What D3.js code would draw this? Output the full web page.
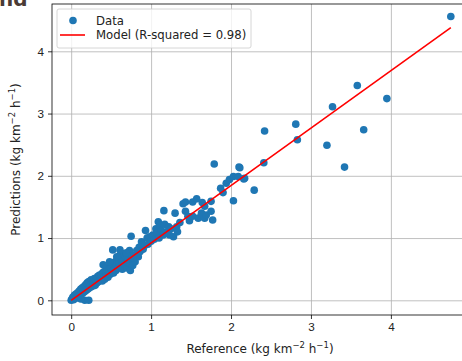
<!DOCTYPE html>
<html>
<head>
<meta charset="utf-8">
<script src="https://cdn.jsdelivr.net/npm/d3@7"></script>
<style>
  body { margin: 0; background: #fff; }
  svg { display: block; font-family: "DejaVu Sans", sans-serif; }
  .grid line { stroke: #b0b0b0; stroke-width: 0.8; }
  .grid path { display: none; }
  .axis path, .axis line { stroke: #000; stroke-width: 0.8; }
  .axis text { font-size: 11.7px; fill: #222; }
</style>
</head>
<body>
<svg id="chart" width="462" height="361"></svg>
<script>
// reference vs predicted values (kg km-2 h-1)
const reference = [
  0.00, 0.01, 0.02, 0.03, 0.04, 0.05, 0.06, 0.07, 0.08, 0.09, 0.10, 0.11, 0.12, 0.13, 0.14, 0.15,
  0.16, 0.17, 0.18, 0.19, 0.20, 0.21, 0.22, 0.23, 0.24, 0.25, 0.26, 0.27, 0.28, 0.29, 0.30, 0.31,
  0.32, 0.33, 0.34, 0.35, 0.36, 0.37, 0.38, 0.39, 0.40, 0.41, 0.42, 0.43, 0.44, 0.45, 0.46, 0.47,
  0.48, 0.49, 0.50, 0.51, 0.52, 0.53, 0.54, 0.55, 0.56, 0.57, 0.58, 0.59, 0.60, 0.61, 0.62, 0.63,
  0.64, 0.65, 0.66, 0.67, 0.68, 0.69, 0.70, 0.71, 0.72, 0.73, 0.74, 0.75, 0.76, 0.77, 0.78, 0.80,
  0.82, 0.84, 0.85, 0.86, 0.88, 0.90, 0.92, 0.93, 0.95, 0.96, 0.98, 1.00, 1.02, 1.04, 1.06, 1.07,
  1.09, 1.10, 1.11, 1.13, 1.15, 1.16, 1.17, 1.20, 1.22, 1.23, 1.25, 1.28, 1.30, 1.32, 1.33, 1.36,
  0.17, 0.22, 0.12, 0.52, 0.57, 0.61, 0.48, 0.40, 0.77, 0.69,
  1.40, 1.43, 1.43, 1.46, 1.48, 1.52, 1.52, 1.57, 1.59, 1.63, 1.64, 1.67, 1.67, 1.69, 1.75, 1.75,
  1.77, 1.79, 1.87, 1.90, 1.94, 1.98, 2.03, 2.03, 2.09, 2.10, 2.11, 2.16, 2.17, 2.29,
  2.41, 2.42, 2.81, 2.83, 3.20, 3.27, 3.42, 3.58, 3.66, 3.95, 4.75
];
const predicted = [
  0.00, 0.02, 0.05, 0.01, 0.08, 0.03, 0.10, 0.04, 0.12, 0.06, 0.15, 0.08, 0.18, 0.10, 0.20, 0.12,
  0.22, 0.14, 0.25, 0.16, 0.28, 0.18, 0.30, 0.20, 0.24, 0.33, 0.22, 0.30, 0.26, 0.35, 0.24, 0.32,
  0.28, 0.38, 0.30, 0.40, 0.33, 0.36, 0.42, 0.31, 0.45, 0.38, 0.34, 0.48, 0.40, 0.50, 0.37, 0.44,
  0.55, 0.42, 0.52, 0.46, 0.60, 0.44, 0.50, 0.62, 0.48, 0.56, 0.68, 0.52, 0.60, 0.72, 0.55, 0.66,
  0.50, 0.75, 0.62, 0.58, 0.70, 0.76, 0.52, 0.65, 0.60, 0.80, 0.48, 1.03, 0.68, 0.56, 0.72, 0.62,
  0.80, 0.70, 0.85, 0.78, 0.94, 0.82, 0.88, 1.12, 1.00, 0.90, 1.02, 0.95, 1.05, 0.98, 1.15, 1.08,
  1.26, 1.00, 1.20, 1.12, 1.05, 1.44, 1.22, 1.10, 1.18, 1.05, 1.15, 1.02, 1.40, 1.18, 1.10, 1.25,
  0.00, 0.00, 0.02, 0.81, 0.70, 0.81, 0.62, 0.57, 0.68, 0.76,
  1.55, 1.58, 1.43, 1.35, 1.28, 1.58, 1.35, 1.63, 1.32, 1.40, 1.57, 1.51, 1.32, 1.37, 1.59, 1.43,
  1.29, 2.19, 1.80, 1.73, 1.88, 1.94, 1.60, 1.99, 1.99, 2.14, 2.13, 1.95, 1.96, 1.77,
  2.21, 2.72, 2.83, 2.58, 2.49, 3.11, 2.14, 3.45, 2.74, 3.24, 4.56
];
// fitted model line end points
const modelRef = [0.00, 4.75];
const modelPred = [0.00, 4.38];
const xTicks = [0, 1, 2, 3, 4];
const yTicks = [0, 1, 2, 3, 4];

const margin = {top: 4, left: 52, right: -8, bottom: 46};
const WIDTH = 462, HEIGHT = 361;

const svg = d3.select('#chart');

// heading above the figure, cut off by the window like in the original
svg.append('text')
  .attr('x', -1).attr('y', 6)
  .style('font-size', '20px').style('font-weight', 'bold')
  .style('fill', '#4a3b35')
  .text('nd');

const x = d3.scaleLinear()
  .domain([-0.24, 4.99])
  .range([margin.left, WIDTH - margin.right]);
const y = d3.scaleLinear()
  .domain([-0.236, 4.76])
  .range([HEIGHT - margin.bottom, margin.top]);

const plotH = (HEIGHT - margin.bottom) - margin.top;
const plotW = (WIDTH - margin.right) - margin.left;

// grid
svg.append('g')
  .attr('class', 'grid')
  .attr('transform', `translate(0,${HEIGHT - margin.bottom})`)
  .call(d3.axisBottom(x).tickValues(xTicks).tickSize(-plotH).tickFormat(''));
svg.append('g')
  .attr('class', 'grid')
  .attr('transform', `translate(${margin.left},0)`)
  .call(d3.axisLeft(y).tickValues(yTicks).tickSize(-plotW).tickFormat(''));

// points
svg.append('g')
  .selectAll('circle')
  .data(reference.map((r, i) => ({r: r, p: predicted[i]})))
  .join('circle')
  .attr('cx', d => x(d.r))
  .attr('cy', d => y(d.p))
  .attr('r', 3.8)
  .attr('fill', '#1f77b4');

// model line
svg.append('path')
  .datum(modelRef.map((r, i) => [r, modelPred[i]]))
  .attr('fill', 'none')
  .attr('stroke', 'red')
  .attr('stroke-width', 1.6)
  .attr('d', d3.line().x(d => x(d[0])).y(d => y(d[1])));

// axes
const xAxis = svg.append('g')
  .attr('class', 'axis')
  .attr('transform', `translate(0,${HEIGHT - margin.bottom})`)
  .call(d3.axisBottom(x).tickValues(xTicks).tickFormat(d3.format('d'))
    .tickSize(4).tickPadding(4).tickSizeOuter(0));
xAxis.select('.domain').remove();
const yAxis = svg.append('g')
  .attr('class', 'axis')
  .attr('transform', `translate(${margin.left},0)`)
  .call(d3.axisLeft(y).tickValues(yTicks).tickFormat(d3.format('d'))
    .tickSize(4).tickPadding(4).tickSizeOuter(0));
yAxis.select('.domain').remove();

// frame (right spine falls outside the window)
svg.append('rect')
  .attr('x', margin.left).attr('y', margin.top)
  .attr('width', plotW).attr('height', plotH)
  .attr('fill', 'none').attr('stroke', '#000').attr('stroke-width', 0.8);

// axis labels with superscripts
function unitLabel(sel, name) {
  sel.append('tspan').text(name + ' (kg km');
  sel.append('tspan').attr('dy', -5).style('font-size', '8.5px').text('\u22122');
  sel.append('tspan').attr('dy', 5).text(' h');
  sel.append('tspan').attr('dy', -5).style('font-size', '8.5px').text('\u22121');
  sel.append('tspan').attr('dy', 5).text(')');
}
const xLabel = svg.append('text')
  .attr('x', 260).attr('y', 353)
  .style('text-anchor', 'middle').style('font-size', '12px').style('fill', '#222');
unitLabel(xLabel, 'Reference');
const yLabel = svg.append('text')
  .attr('transform', `translate(20,${(margin.top + HEIGHT - margin.bottom) / 2}) rotate(-90)`)
  .style('text-anchor', 'middle').style('font-size', '12px').style('fill', '#222');
unitLabel(yLabel, 'Predictions');

// legend
const legend = svg.append('g');
legend.append('rect')
  .attr('x', 57).attr('y', 9).attr('width', 194).attr('height', 39).attr('rx', 2)
  .attr('fill', 'rgba(255,255,255,0.8)').attr('stroke', '#ccc').attr('stroke-width', 0.8);
legend.append('circle').attr('cx', 73).attr('cy', 20.5).attr('r', 3.8).attr('fill', '#1f77b4');
legend.append('line').attr('x1', 60).attr('x2', 85).attr('y1', 35).attr('y2', 35)
  .attr('stroke', 'red').attr('stroke-width', 1.6);
legend.append('text').attr('x', 96).attr('y', 24.5)
  .style('font-size', '11.7px').style('fill', '#222').text('Data');
legend.append('text').attr('x', 96).attr('y', 39)
  .style('font-size', '11.7px').style('fill', '#222').text('Model (R-squared = 0.98)');
</script>
</body>
</html>
